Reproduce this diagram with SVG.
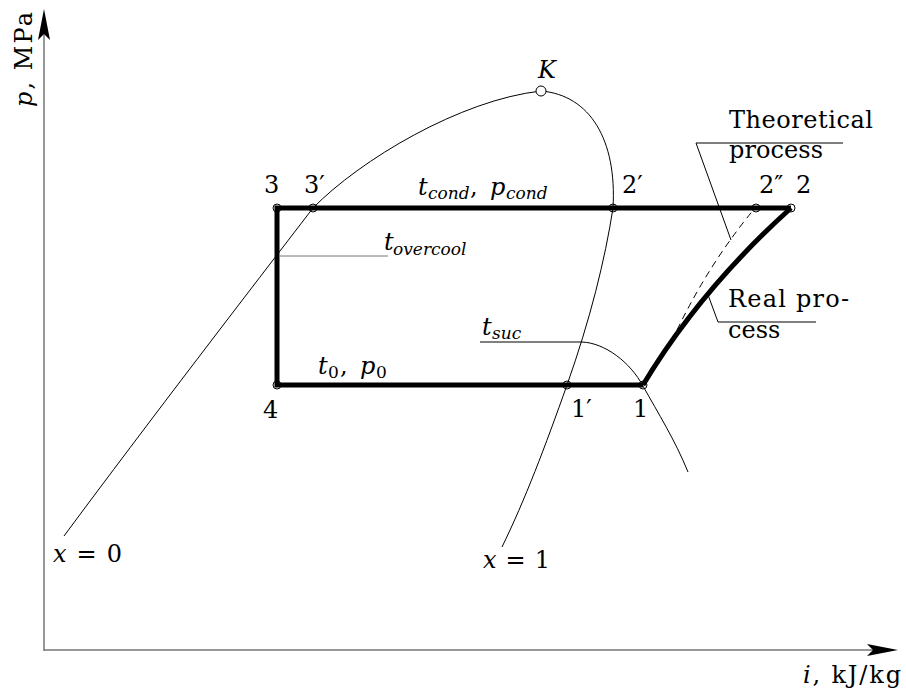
<svg xmlns="http://www.w3.org/2000/svg" width="906" height="691" viewBox="0 0 906 691">
<style>
.axis{stroke:#777;stroke-width:1.5;fill:none}
.thin{stroke:#000;stroke-width:1;fill:none}
.thick{stroke:#000;stroke-width:5;fill:none;stroke-linejoin:miter;stroke-linecap:butt}
.dash{stroke:#000;stroke-width:1;fill:none;stroke-dasharray:7 5}
.pt{stroke:#000;stroke-width:1;fill:none}
.lbl{font-family:"DejaVu Serif","Liberation Serif",serif;font-size:24px;fill:#000}
.it{font-style:italic}
.sub{font-size:17px}
</style>
<rect width="906" height="691" fill="#fff"/>
<g id="axes">
<path class="axis" d="M44,651 V30 M44,650 H880"/>
<path d="M44,9 L50,40 L44,34 L38,40 Z M898,650 L867,644 L873,650 L867,656 Z" fill="#000"/>
<text class="lbl" transform="translate(32,107) rotate(-90)" textLength="95"><tspan class="it">p</tspan>, MPa</text>
<text class="lbl" x="803" y="683" textLength="98"><tspan class="it">i</tspan>, kJ/kg</text>
</g>
<g id="connectors">
<path id="sat-left" class="thin" d="M64,536 C150,420 250,290 313,208 C360,160 460,100 541,91"/>
<path id="sat-right" class="thin" d="M541,91 C590,95 617,140 613,208 C605,260 590,320 567,385 C545,447 525,500 502,547"/>
<path id="isotherm" class="thin" d="M480,342 H582 C605,343 630,362 643,386 C658,413 675,440 688,472"/>
<path id="cycle" class="thick" d="M643,385 H277 V208 H791"/>
<path id="real" class="thick" d="M643,385 Q700,290 791,208"/>
<path id="theory" class="dash" d="M677,330 Q710,262 755,208"/>
<path class="thin" d="M843,143 H696 L731,240"/>
<path class="thin" d="M816,322 H718 L707,292"/>
<path d="M280,256 H388" style="stroke:#777;stroke-width:1;fill:none"/>
</g>
<g id="K"><circle cx="541" cy="91" r="5" fill="#fff" stroke="#000" stroke-width="1"/><text class="lbl it" x="538" y="78">K</text></g>
<g id="p3"><circle class="pt" cx="277" cy="208" r="4"/><text class="lbl" x="264" y="193">3</text></g>
<g id="p3s"><circle class="pt" cx="313" cy="208" r="4"/><text class="lbl" x="304" y="193">3′</text></g>
<g id="p2s"><circle class="pt" cx="613" cy="208" r="4"/><text class="lbl" x="622" y="193">2′</text></g>
<g id="p2ss"><circle class="pt" cx="756" cy="208" r="4"/><text class="lbl" x="759" y="193">2″</text></g>
<g id="p2"><circle class="pt" cx="791" cy="208" r="4"/><text class="lbl" x="796" y="193">2</text></g>
<g id="p4"><circle class="pt" cx="277" cy="385" r="4"/><text class="lbl" x="263" y="418">4</text></g>
<g id="p1s"><circle class="pt" cx="567" cy="385" r="4"/><text class="lbl" x="571" y="417">1′</text></g>
<g id="p1"><circle class="pt" cx="643" cy="385" r="4"/><text class="lbl" x="633" y="417">1</text></g>
<g id="labels">
<text class="lbl"><tspan class="it" x="418" y="195">t</tspan><tspan class="it sub" x="428" y="199">cond</tspan><tspan x="470" y="195">,</tspan><tspan class="it" x="490" y="195">p</tspan><tspan class="it sub" x="506" y="199">cond</tspan></text>
<text class="lbl"><tspan class="it" x="318" y="374">t</tspan><tspan class="sub" x="328" y="378">0</tspan><tspan x="340" y="374">,</tspan><tspan class="it" x="360" y="374">p</tspan><tspan class="sub" x="376" y="378">0</tspan></text>
<text class="lbl"><tspan class="it" x="482" y="335">t</tspan><tspan class="it sub" x="492" y="339">suc</tspan></text>
<text class="lbl"><tspan class="it" x="384" y="250">t</tspan><tspan class="it sub" x="393" y="255">overcool</tspan></text>
<text class="lbl" x="729" y="128" textLength="144">Theoretical</text>
<text class="lbl" x="729" y="158" textLength="94">process</text>
<text class="lbl" x="728" y="307" textLength="121">Real pro-</text>
<text class="lbl" x="728" y="338">cess</text>
<text class="lbl" x="53" y="562" textLength="69"><tspan class="it">x</tspan> = 0</text>
<text class="lbl" x="483" y="568" textLength="67"><tspan class="it">x</tspan> = 1</text>
</g>
</svg>
